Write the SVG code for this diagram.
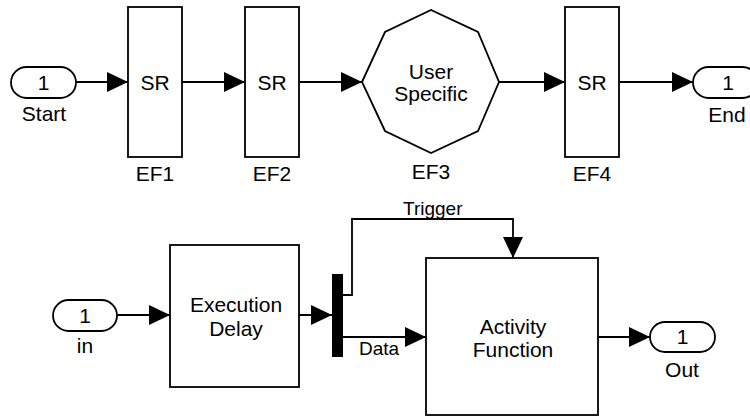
<svg xmlns="http://www.w3.org/2000/svg" width="750" height="417" viewBox="0 0 750 417">
<style>
.b{fill:#fff;stroke:#000;stroke-width:1.8}
.t{font-family:"Liberation Sans",Arial,sans-serif;font-size:21px;fill:#000;text-anchor:middle}
.s{font-family:"Liberation Sans",Arial,sans-serif;font-size:19px;fill:#000}
.c{fill:none;stroke:#000;stroke-width:1.8}
</style>
<defs>
<marker id="ah" markerUnits="userSpaceOnUse" markerWidth="21" markerHeight="20" refX="21" refY="10" orient="auto" viewBox="0 0 21 20">
<path d="M0,0 L21,10 L0,20 z" fill="#000"/>
</marker>
</defs>
<rect width="750" height="417" fill="#fff"/>
<g id="connectors">
<path class="c" d="M76,82 H128" marker-end="url(#ah)"/>
<path class="c" d="M182,82 H245" marker-end="url(#ah)"/>
<path class="c" d="M299,82 H362" marker-end="url(#ah)"/>
<path class="c" d="M499,82 H565" marker-end="url(#ah)"/>
<path class="c" d="M619,82 H693" marker-end="url(#ah)"/>
<path class="c" d="M117,315 H170" marker-end="url(#ah)"/>
<path class="c" d="M299,315 H332" marker-end="url(#ah)"/>
<path class="c" d="M343,295 H352 V219 H513 V258" marker-end="url(#ah)"/>
<path class="c" d="M343,337 H426" marker-end="url(#ah)"/>
<path class="c" d="M598,337 H650" marker-end="url(#ah)"/>
<text class="s" x="403" y="215">Trigger</text>
<text class="s" x="359" y="355">Data</text>
</g>
<g id="start">
<rect class="b" x="11" y="67" width="65" height="31" rx="15.5"/>
<text class="t" x="43.5" y="90">1</text>
<text class="t" x="44" y="121">Start</text>
</g>
<g id="ef1">
<rect class="b" x="128" y="7" width="54" height="150"/>
<text class="t" x="155" y="90">SR</text>
<text class="t" x="155" y="181">EF1</text>
</g>
<g id="ef2">
<rect class="b" x="245" y="7" width="54" height="150"/>
<text class="t" x="272" y="90">SR</text>
<text class="t" x="272" y="181">EF2</text>
</g>
<g id="ef3">
<polygon class="b" points="362,82 385,32 431,10 478,32 499,82 478,131 431,153 385,131"/>
<text class="t" x="431" y="79">User</text>
<text class="t" x="431" y="101">Specific</text>
<text class="t" x="431" y="179">EF3</text>
</g>
<g id="ef4">
<rect class="b" x="565" y="7" width="54" height="150"/>
<text class="t" x="592" y="90">SR</text>
<text class="t" x="592" y="181">EF4</text>
</g>
<g id="end">
<rect class="b" x="693" y="67" width="65" height="31" rx="15.5"/>
<text class="t" x="728" y="90">1</text>
<text class="t" x="727" y="122">End</text>
</g>
<g id="in">
<rect class="b" x="53" y="300" width="64" height="31" rx="15.5"/>
<text class="t" x="85" y="322.5">1</text>
<text class="t" x="85" y="353">in</text>
</g>
<g id="delay">
<rect class="b" x="170" y="245" width="129" height="142"/>
<text class="t" x="236" y="312">Execution</text>
<text class="t" x="236" y="336">Delay</text>
</g>
<g id="mux">
<rect x="332" y="274" width="11" height="83" fill="#000"/>
</g>
<g id="activity">
<rect class="b" x="426" y="258" width="172" height="157"/>
<text class="t" x="513" y="334">Activity</text>
<text class="t" x="513" y="357">Function</text>
</g>
<g id="out">
<rect class="b" x="650" y="322" width="65" height="30" rx="15"/>
<text class="t" x="682.5" y="344">1</text>
<text class="t" x="682" y="377">Out</text>
</g>
</svg>
